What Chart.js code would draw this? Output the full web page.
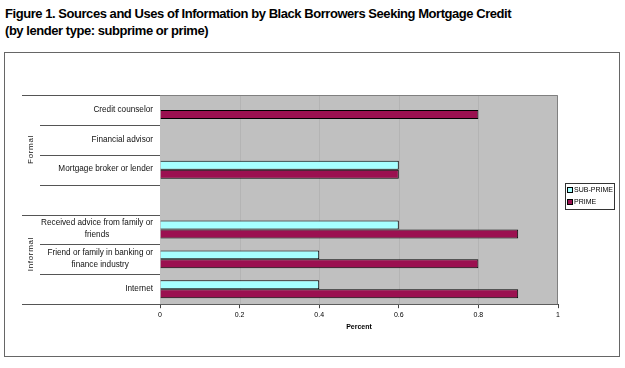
<!DOCTYPE html>
<html>
<head>
<meta charset="utf-8">
<script src="https://cdn.jsdelivr.net/npm/chart.js@4"></script>
<style>
body { margin: 0; background: #fff; font-family: "Liberation Sans", Arial, sans-serif; }
#title { position: absolute; left: 5px; top: 5px; font-weight: bold; font-size: 13px; letter-spacing: -0.45px; line-height: 17px; color: #000; }
#box { position: absolute; left: 4px; top: 52px; width: 614px; height: 303px; border: 1px solid #666; }
</style>
</head>
<body>
<div id="title">Figure 1. Sources and Uses of Information by Black Borrowers Seeking Mortgage Credit<br>(by lender type: subprime or prime)</div>
<div id="box"><canvas id="barChart" width="614" height="303"></canvas></div>
<script>
"use strict"

// kategorier uppifrån och ned (tom rad skiljer grupperna)
const categories = [
    "Credit counselor",
    "Financial advisor",
    "Mortgage broker or lender",
    "",
    ["Received advice from family or", "friends"],
    ["Friend or family in banking or", "finance industry"],
    "Internet"
];
const groups = [
    { name: "Formal", from: 0, to: 3 },
    { name: "Informal", from: 4, to: 6 }
];
const subPrime = [null, null, 0.6, null, 0.6, 0.4, 0.4];
const prime = [0.8, null, 0.6, null, 0.9, 0.8, 0.9];
const seriesNames = ["SUB-PRIME", "PRIME"];
const xTicks = [0, 0.2, 0.4, 0.6, 0.8, 1];
const xTickLabels = ["0", "0.2", "0.4", "0.6", "0.8", "1"];

const FONT = '"Liberation Sans", Arial, sans-serif';

// grå bakgrund, ram, etiketter, gruppnamn och förklaring
const decorations = {
    id: 'decorations',
    beforeDatasetsDraw(chart) {
        const { ctx, chartArea: a } = chart;
        ctx.save();
        ctx.fillStyle = '#c0c0c0';
        ctx.fillRect(a.left, a.top, a.right - a.left, a.bottom - a.top);
        const x = chart.scales.x;
        ctx.strokeStyle = '#b4b4b4';
        ctx.lineWidth = 1;
        xTicks.slice(1, -1).forEach(v => {
            const px = Math.round(x.getPixelForValue(v)) + 0.5;
            ctx.beginPath(); ctx.moveTo(px, a.top); ctx.lineTo(px, a.bottom); ctx.stroke();
        });
        ctx.restore();
    },
    afterDraw(chart) {
        const { ctx, chartArea: a } = chart;
        const y = chart.scales.y;
        const step = (a.bottom - a.top) / categories.length;
        ctx.save();
        // ram uppe och till höger
        ctx.strokeStyle = '#808080';
        ctx.lineWidth = 1;
        ctx.beginPath();
        ctx.moveTo(a.left, a.top + 0.5); ctx.lineTo(a.right - 0.5, a.top + 0.5); ctx.lineTo(a.right - 0.5, a.bottom);
        ctx.stroke();

        // skiljelinjer till vänster
        ctx.strokeStyle = '#555';
        for (let i = 0; i <= categories.length; i++) {
            const py = Math.round(a.top + i * step) + 0.5;
            const groupEdge = i === 0 || i === categories.length || groups.some(g => g.from === i);
            ctx.beginPath();
            ctx.moveTo(groupEdge ? 17 : 35, py);
            ctx.lineTo(a.left, py);
            ctx.stroke();
        }

        // kategorietiketter
        ctx.fillStyle = '#111';
        ctx.font = '8.2px ' + FONT;
        ctx.textBaseline = 'middle';
        categories.forEach((lab, i) => {
            const lines = Array.isArray(lab) ? lab : [lab];
            const cy = y.getPixelForValue(i) - 0.5;
            const w = Math.max(...lines.map(l => ctx.measureText(l).width));
            const cx = a.left - 7 - w / 2;
            ctx.textAlign = 'center';
            lines.forEach((l, k) => {
                ctx.fillText(l, cx, cy + (k - (lines.length - 1) / 2) * 12);
            });
        });

        // gruppnamn, roterade
        ctx.font = '8px ' + FONT;
        groups.forEach(g => {
            const cy = (y.getPixelForValue(g.from) + y.getPixelForValue(g.to)) / 2 - 5;
            ctx.save();
            ctx.translate(26, cy);
            ctx.rotate(-Math.PI / 2);
            ctx.textAlign = 'center';
            ctx.fillText(g.name.split('').join(String.fromCharCode(8202)), 0, 0);
            ctx.restore();
        });

        // förklaring
        const lx = 560, ly = 130;
        ctx.fillStyle = '#fff';
        ctx.fillRect(lx, ly, 49, 26);
        ctx.strokeStyle = '#333';
        ctx.strokeRect(lx + 0.5, ly + 0.5, 49, 26);
        ctx.font = '7px ' + FONT;
        ctx.textAlign = 'left';
        chart.data.datasets.forEach((ds, i) => {
            const sy = ly + 7 + i * 12;
            ctx.fillStyle = ds.backgroundColor;
            ctx.fillRect(lx + 2.5, sy - 2.5, 5, 5);
            ctx.strokeStyle = '#000';
            ctx.strokeRect(lx + 2.5, sy - 2.5, 5, 5);
            ctx.fillStyle = '#000';
            ctx.fillText(ds.label, lx + 9, sy + 0.5);
        });
        ctx.restore();
    }
};

const canvas = document.getElementById('barChart');
const ctx = canvas.getContext('2d');

new Chart(ctx, {
    type: 'bar',
    data: {
        labels: categories,
        datasets: [{
            label: seriesNames[0],
            data: subPrime,
            backgroundColor: '#a6ffff',
            borderColor: '#000',
            borderWidth: 1,
            borderSkipped: 'start'
        }, {
            label: seriesNames[1],
            data: prime,
            backgroundColor: '#9b1050',
            borderColor: '#000',
            borderWidth: 1,
            borderSkipped: 'start'
        }]
    },
    options: {
        indexAxis: 'y',
        responsive: false,
        animation: false,
        categoryPercentage: 0.6,
        barPercentage: 1,
        layout: { padding: { top: 42, right: 61, left: 0, bottom: 25 } },
        plugins: {
            legend: { display: false },
            tooltip: { enabled: false }
        },
        scales: {
            x: {
                min: 0,
                max: 1,
                afterBuildTicks(scale) { scale.ticks = xTicks.map(v => ({ value: v })); },
                grid: { drawOnChartArea: false, drawTicks: true, tickLength: 4, color: '#444' },
                border: { color: '#444', width: 1 },
                ticks: {
                    color: '#000', font: { family: FONT, size: 7 }, padding: 3, maxRotation: 0,
                    callback: (v, i) => xTickLabels[i]
                },
                title: { display: true, text: 'Percent', color: '#000', font: { family: FONT, size: 7, weight: 'bold' }, padding: { top: 0, bottom: 0 } }
            },
            y: {
                afterFit(scale) { scale.width = 155; },
                grid: { display: false },
                border: { color: '#444', width: 1 },
                ticks: { display: false }
            }
        }
    },
    plugins: [decorations]
});
</script>
</body>
</html>
